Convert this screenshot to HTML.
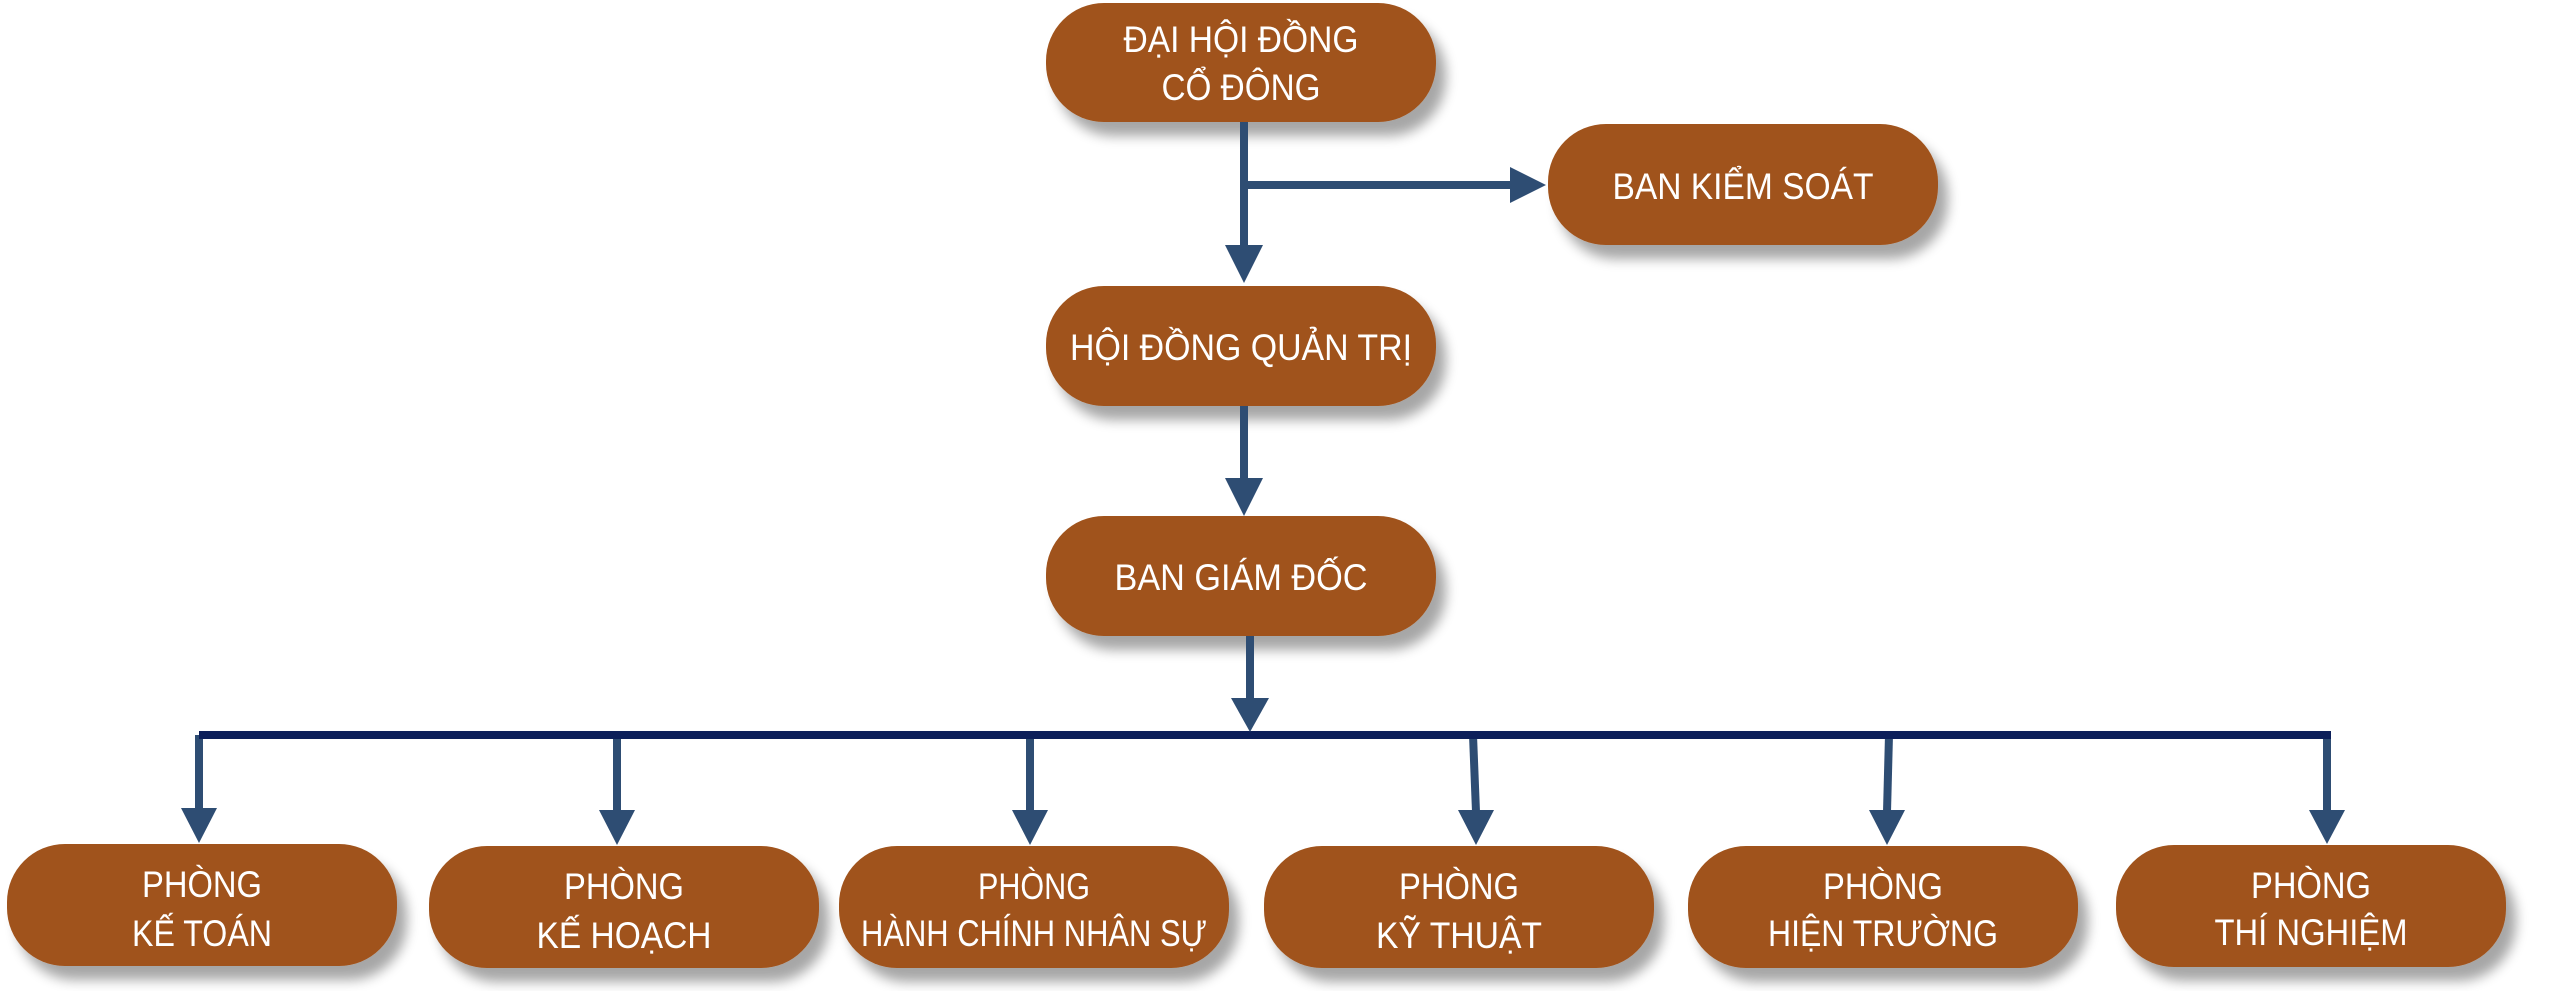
<!DOCTYPE html>
<html><head><meta charset="utf-8"><style>
html,body{margin:0;padding:0;background:#fff}
svg{display:block}
text{font-family:"Liberation Sans",sans-serif;fill:#fff;font-size:37px;text-anchor:middle}
</style></head><body>
<svg width="2560" height="991" viewBox="0 0 2560 991" xmlns="http://www.w3.org/2000/svg">
<defs>
<filter id="sh" x="-10%" y="-20%" width="130%" height="160%">
<feGaussianBlur in="SourceAlpha" stdDeviation="6"/>
<feOffset dx="10" dy="14"/>
<feComponentTransfer><feFuncA type="linear" slope="0.35"/></feComponentTransfer>
<feMerge><feMergeNode/><feMergeNode in="SourceGraphic"/></feMerge>
</filter>
</defs>
<g fill="#A0531C" filter="url(#sh)">
<rect x="1046" y="3" width="390" height="119" rx="58"/>
<rect x="1548" y="124" width="390" height="121" rx="58"/>
<rect x="1046" y="286" width="390" height="120" rx="58"/>
<rect x="1046" y="516" width="390" height="120" rx="58"/>
<rect x="7" y="844" width="390" height="122" rx="58"/>
<rect x="429" y="846" width="390" height="122" rx="58"/>
<rect x="839" y="846" width="390" height="122" rx="58"/>
<rect x="1264" y="846" width="390" height="122" rx="58"/>
<rect x="1688" y="846" width="390" height="122" rx="58"/>
<rect x="2116" y="845" width="390" height="122" rx="58"/>
</g>
<g stroke="#2E4D73" stroke-width="8" fill="none">
<line x1="1244" y1="122" x2="1244" y2="250"/>
<line x1="1244" y1="185" x2="1512" y2="185"/>
<line x1="1244" y1="406" x2="1244" y2="483"/>
<line x1="1250" y1="636" x2="1250" y2="700"/>
<line x1="199" y1="735" x2="199" y2="810"/>
<line x1="617" y1="735" x2="617" y2="812"/>
<line x1="1030" y1="735" x2="1030" y2="812"/>
<line x1="1473" y1="735" x2="1476" y2="812"/>
<line x1="1889" y1="735" x2="1887" y2="812"/>
<line x1="2327" y1="735" x2="2327" y2="812"/>
</g>
<line x1="199" y1="735" x2="2331" y2="735" stroke="#0C1F5A" stroke-width="8"/>
<g fill="#2E4D73">
<polygon points="1225,245 1263,245 1244,283"/>
<polygon points="1510,167 1510,203 1546,185"/>
<polygon points="1225,478 1263,478 1244,516"/>
<polygon points="1231,698 1269,698 1250,732"/>
<polygon points="181,808 217,808 199,843"/>
<polygon points="599,810 635,810 617,845"/>
<polygon points="1012,810 1048,810 1030,845"/>
<polygon points="1458,810 1494,810 1476,845"/>
<polygon points="1869,810 1905,810 1887,845"/>
<polygon points="2309,810 2345,810 2327,844"/>
</g>
<g>
<text x="1241" y="52" textLength="235" lengthAdjust="spacingAndGlyphs">ĐẠI HỘI ĐỒNG</text>
<text x="1241" y="100" textLength="159" lengthAdjust="spacingAndGlyphs">CỔ ĐÔNG</text>
<text x="1743" y="199" textLength="261" lengthAdjust="spacingAndGlyphs">BAN KIỂM SOÁT</text>
<text x="1241" y="360" textLength="342" lengthAdjust="spacingAndGlyphs">HỘI ĐỒNG QUẢN TRỊ</text>
<text x="1241" y="590" textLength="253" lengthAdjust="spacingAndGlyphs">BAN GIÁM ĐỐC</text>
<text x="202" y="897" font-size="35" textLength="120" lengthAdjust="spacingAndGlyphs">PHÒNG</text><text x="202" y="946" font-size="35" textLength="140" lengthAdjust="spacingAndGlyphs">KẾ TOÁN</text>
<text x="624" y="899" font-size="35" textLength="120" lengthAdjust="spacingAndGlyphs">PHÒNG</text><text x="624" y="948" font-size="35" textLength="175" lengthAdjust="spacingAndGlyphs">KẾ HOẠCH</text>
<text x="1034" y="899" font-size="33" textLength="112" lengthAdjust="spacingAndGlyphs">PHÒNG</text><text x="1034" y="946" font-size="33" textLength="346" lengthAdjust="spacingAndGlyphs">HÀNH CHÍNH NHÂN SỰ</text>
<text x="1459" y="899" font-size="35" textLength="120" lengthAdjust="spacingAndGlyphs">PHÒNG</text><text x="1459" y="948" font-size="35" textLength="166" lengthAdjust="spacingAndGlyphs">KỸ THUẬT</text>
<text x="1883" y="899" font-size="35" textLength="120" lengthAdjust="spacingAndGlyphs">PHÒNG</text><text x="1883" y="946" font-size="35" textLength="230" lengthAdjust="spacingAndGlyphs">HIỆN TRƯỜNG</text>
<text x="2311" y="898" font-size="35" textLength="120" lengthAdjust="spacingAndGlyphs">PHÒNG</text><text x="2311" y="945" font-size="35" textLength="193" lengthAdjust="spacingAndGlyphs">THÍ NGHIỆM</text>
</g>
</svg>
</body></html>
